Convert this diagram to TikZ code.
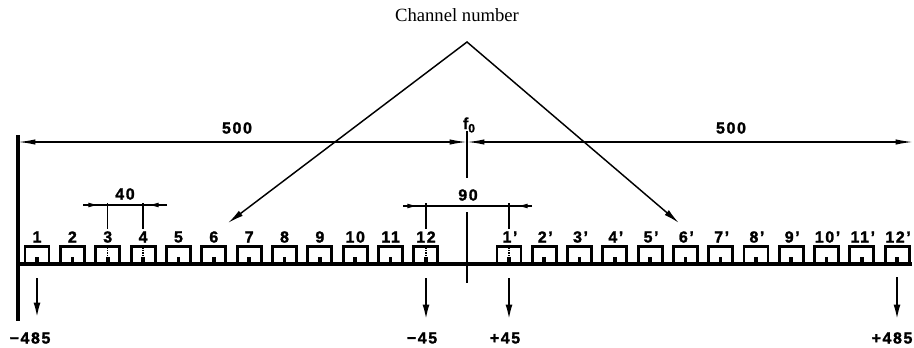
\documentclass[tikz,border=0pt]{standalone}
\usepackage{fontspec}
\setmainfont{Liberation Serif}
\newfontfamily\lblfont[LetterSpace=10, BoldFeatures={FakeBold=1.5}]{Liberation Sans}
\usetikzlibrary{arrows.meta}
\begin{document}
\begin{tikzpicture}[x=0.75pt,y=-0.75pt,
  lbl/.style={font=\lblfont\bfseries\fontsize{12}{13}\selectfont, inner sep=0pt},
  chbox/.style={draw, line width=2.2pt, minimum width=18pt, minimum height=13pt, inner sep=0pt},
  thinline/.style={line width=0.9pt},
  smalltip/.style={-{Latex[length=8pt,width=3.6pt]}},
  downarrow/.style={line width=2pt,-{Latex[length=13pt,width=5pt]}},
  pointer/.style={line width=1.1pt,{Latex[length=12pt,width=4.8pt]}-{Latex[length=12pt,width=4.8pt]}}]
\useasboundingbox (0,0) rectangle (914,347);

% title and pointer triangle
\node[font=\fontsize{14}{16}\selectfont, inner sep=0pt] (title) at (457,15) {Channel number};
\coordinate (apex) at (467,42);
\coordinate (tipL) at (228,223);
\coordinate (tipR) at (679,223);
\draw[pointer] (tipL) -- (apex) -- (tipR);

% left bar and 500 dimensions
\coordinate (L) at (18,142);
\coordinate (F) at (467,142);
\coordinate (R) at (913,142);
\draw[line width=2.4pt] (18,135) -- (18,321);
\draw[line width=1pt, {Latex[length=13pt,width=4pt]}-{Latex[length=13pt,width=4pt]}] (L) -- (F);
\draw[line width=1pt, {Latex[length=13pt,width=4pt]}-{Latex[length=13pt,width=4pt]}] (F) -- (R);
\node[lbl] (n500a) at (237,128) {500};
\node[lbl] (n500b) at (731,128) {500};
\node[lbl] (f0) at (469,125) {f\raisebox{-2.5pt}{\fontsize{9}{9}\selectfont 0}};
\draw[thinline] (467,131) -- (467,178);

% baseline
\draw[line width=2.4pt] (18,264) -- (912,264);
% centre mark
\draw[thinline] (467,212) -- (467,262);
\draw[line width=2pt] (467,262) -- (467,283);

% channels
\foreach \i in {1,...,12}{
  \pgfmathsetmacro\xa{37+35.36*(\i-1)}
  \pgfmathsetmacro\xb{509+35.28*(\i-1)}
  \node[chbox] (c\i) at (\xa,255) {};
  \node[chbox] (d\i) at (\xb,255) {};
  \fill (\xa-1.8,256.5) rectangle (\xa+1.8,262);
  \fill (\xb-1.8,256.5) rectangle (\xb+1.8,262);
  \node[lbl] (lc\i) at (\xa,237) {\i};
  \node[lbl] (ld\i) at (\xb+1,237) {\i\textquoteright};
}

% extension lines (dotted inside boxes)
\foreach \n in {c3,c4,c12,d1}{
  \draw[thinline] (\n.north |- 0,203) -- (\n.north |- 0,229);
  \draw[line width=0.9pt, densely dotted] (\n.north) -- ([yshift=-3pt]\n.center);
}

% 40 dimension
\coordinate (a40) at (83,205);
\coordinate (b40) at (167,205);
\draw[thinline] (a40) -- (b40);
\draw[smalltip, thinline] (a40) -- (99,205);
\draw[smalltip, thinline] (b40) -- (148,205);
\node[lbl] (n40) at (125,194) {40};

% 90 dimension
\coordinate (a90) at (403,206);
\coordinate (b90) at (532,206);
\draw[thinline] (a90) -- (b90);
\draw[smalltip, thinline] (a90) -- (418,206);
\draw[smalltip, thinline] (b90) -- (517,206);
\node[lbl] (n90) at (468,195) {90};

% down arrows
\draw[downarrow] (37,278) -- (37,320);
\draw[downarrow] (426,278) -- (426,322);
\draw[downarrow] (509,278) -- (509,322);
\draw[downarrow] (897,277) -- (897,322);
\node[lbl] (m485) at (30,338) {−485};
\node[lbl] (m45) at (422,338) {−45};
\node[lbl] (p45) at (505,338) {+45};
\node[lbl] (p485) at (892,338) {+485};
\end{tikzpicture}
\end{document}
